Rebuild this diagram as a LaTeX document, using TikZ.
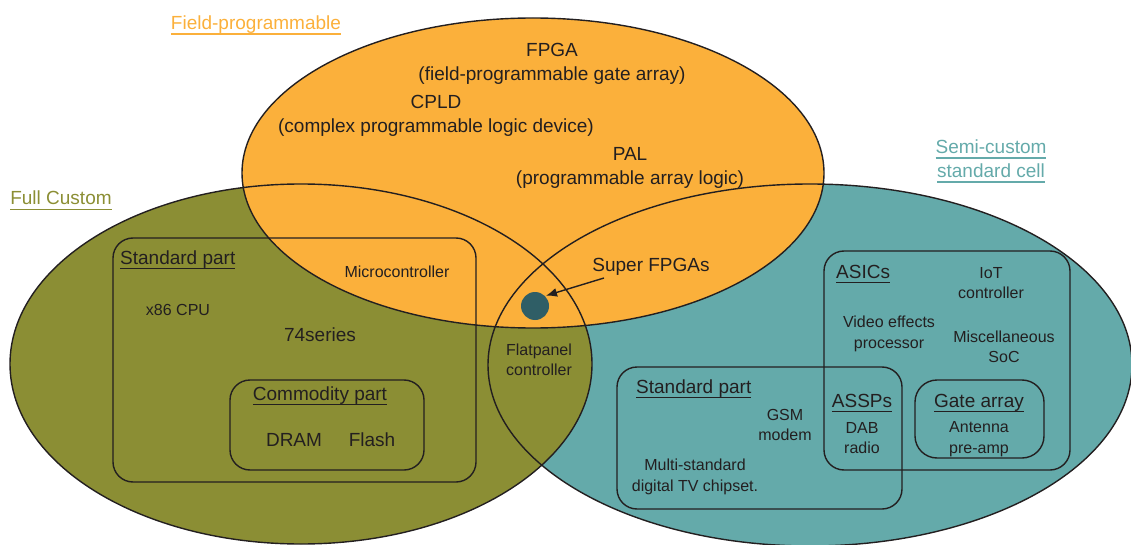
\documentclass[tikz,border=0pt]{standalone}
\usepackage{fontspec}
\setmainfont{Liberation Sans}
\usetikzlibrary{arrows.meta}
\newcommand{\ulx}[1]{\leavevmode\vtop{\hbox{\raisebox{0pt}[\height][0pt]{#1}}\kern3.5pt\hrule height 1.3pt}}
\definecolor{fcOlive}{HTML}{8B8E34}
\definecolor{fcOrange}{HTML}{FBB03B}
\definecolor{fcTeal}{HTML}{64AAAA}
\definecolor{fcDot}{HTML}{2F5E66}
\definecolor{fcInk}{HTML}{231F20}
\begin{document}
\begin{tikzpicture}[x=1pt,y=-1pt,
  big/.style={font=\fontsize{19}{24.5}\selectfont, text=fcInk, align=center, inner sep=0pt},
  small/.style={font=\fontsize{16}{20.5}\selectfont, text=fcInk, align=center, inner sep=0pt},
  title/.style={font=\fontsize{19}{24}\selectfont, align=center, inner sep=0pt},
  setline/.style={draw=fcInk, line width=1.4pt},
  box/.style={draw=fcInk, line width=1.4pt, rounded corners=20pt}]
\useasboundingbox (0,0) rectangle (1131,545);
% filled sets
\fill[fcTeal] (810,365) ellipse [x radius=322pt, y radius=181pt];
\fill[fcOlive] (301,364) ellipse [x radius=291pt, y radius=180pt];
\fill[fcOrange] (533,173) ellipse [x radius=291pt, y radius=155pt];
% outlines
\draw[setline] (810,365) ellipse [x radius=322pt, y radius=181pt];
\draw[setline] (301,364) ellipse [x radius=291pt, y radius=180pt];
\draw[setline] (533,173) ellipse [x radius=291pt, y radius=155pt];
% set titles
\node[title, text=fcOrange, anchor=base] (tfield) at (256,30) {\ulx{Field-programmable}};
\node[title, text=fcOlive, anchor=base] (tfull) at (61,205) {\ulx{Full Custom}};
\node[title, text=fcTeal, anchor=base] (tsemi) at (991,154) {\ulx{Semi-custom}};
\node[title, text=fcTeal, anchor=base] (tsemi2) at (991,178) {\ulx{standard cell}};
% field-programmable contents
\node[big] (fpga) at (552,64) {FPGA\\(field-programmable gate array)};
\node[big] (cpld) at (436,116) {CPLD\\(complex programmable logic device)};
\node[big] (pal) at (630,168) {PAL\\(programmable array logic)};
\node[big] (super) at (651,267) {Super FPGAs};
% super FPGA dot and arrow
\node[circle, fill=fcDot, minimum size=28pt, inner sep=0pt] (dot) at (535,306) {};
\coordinate (arrstart) at (604,278);
\draw[line width=1.4pt, fcInk, -{Latex[length=11pt,width=9pt]}, shorten >=1pt] (arrstart) -- (dot.north east);
% full custom: standard part
\draw[box] (113,238) rectangle (476,482);
\node[big, anchor=base west] (stdL) at (120,264) {\ulx{Standard part}};
\node[small] (micro) at (397,272) {Microcontroller};
\node[small] (x86) at (178,310) {x86 CPU};
\node[big] (s74) at (320,335) {74series};
\draw[box] (230,380) rectangle (424,470);
\node[big, anchor=base] (comm) at (320,400) {\ulx{Commodity part}};
\node[big] (dram) at (294,440) {DRAM};
\node[big] (flash) at (372,440) {Flash};
\node[small] (flat) at (539,360) {Flatpanel\\controller};
% semi-custom: ASICs
\draw[box] (824,251) rectangle (1070,470);
\node[big, anchor=base west] (asics) at (836,278) {\ulx{ASICs}};
\node[small] (iot) at (991,283) {IoT\\controller};
\node[small] (video) at (889,334) {Video effects\\processor};
\node[small] (misc) at (1004,347) {Miscellaneous\\SoC};
% semi-custom: standard part
\draw[box] (617,367) rectangle (902,509);
\node[big, anchor=base west] (stdR) at (636,393) {\ulx{Standard part}};
\node[small] (gsm) at (785,425) {GSM\\modem};
\node[small] (multi) at (695,477) {Multi-standard\\digital TV chipset.};
\node[big, anchor=base] (assps) at (862,407) {\ulx{ASSPs}};
\node[small] (dab) at (862,438) {DAB\\radio};
% gate array
\draw[box, rounded corners=22pt] (915,380) rectangle (1044,458);
\node[big, anchor=base] (gate) at (979,407) {\ulx{Gate array}};
\node[small] (ant) at (979,439) {Antenna\\pre-amp};
\end{tikzpicture}
\end{document}
